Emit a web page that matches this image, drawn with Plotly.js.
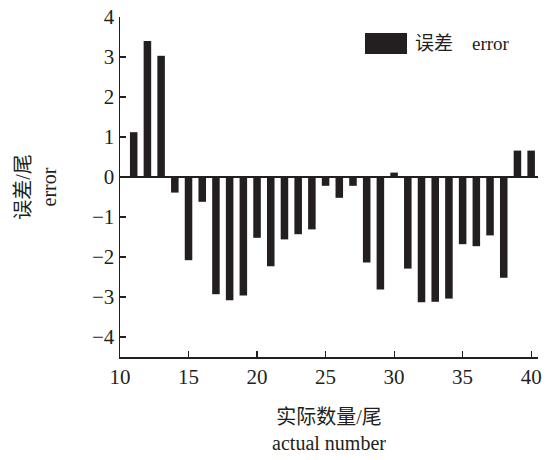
<!DOCTYPE html>
<html>
<head>
<meta charset="utf-8">
<script src="https://cdn.plot.ly/plotly-3.0.1.min.js"></script>
<style>html,body{margin:0;padding:0;background:#fff;}#chart{width:548px;height:460px;}</style>
</head>
<body>
<div id="chart"></div>
<script>
const actualNumber = [11,12,13,14,15,16,17,18,19,20,21,22,23,24,25,26,27,28,29,30,31,32,33,34,35,36,37,38,39,40];
const errorValues = [1.12,3.4,3.03,-0.39,-2.08,-0.62,-2.93,-3.08,-2.96,-1.52,-2.23,-1.56,-1.43,-1.31,-0.22,-0.52,-0.22,-2.14,-2.81,0.11,-2.29,-3.13,-3.12,-3.04,-1.68,-1.73,-1.46,-2.52,0.66,0.66];
const xTicks = [10,15,20,25,30,35,40];
const yTicks = [-4,-3,-2,-1,0,1,2,3,4];
const legendLabel = "误差&nbsp;&nbsp;&nbsp;&nbsp;error";

const FONT = "'Liberation Serif', 'Times New Roman', 'Noto Sans CJK SC', serif";
const barColor = "#231f20";

const trace = {
  type: "bar",
  x: actualNumber,
  y: errorValues,
  width: 0.55,
  marker: {color: barColor, line: {width: 0}},
  showlegend: false
};

const layout = {
  width: 548, height: 460,
  margin: {l: 120, r: 10, t: 17, b: 103},
  paper_bgcolor: "#fff", plot_bgcolor: "#fff",
  font: {family: FONT, size: 20, color: "#231f20"},
  showlegend: false,
  xaxis: {
    range: [10, 40.5],
    tickvals: xTicks,
    ticktext: xTicks.map(String),
    ticks: "inside", ticklen: 6, tickwidth: 1.2, tickcolor: "#231f20",
    showline: true, linecolor: "#231f20", linewidth: 1.5,
    showgrid: false, zeroline: false,
    tickfont: {family: FONT, size: 21},
    title: {text: "实际数量/尾<br>actual number", font: {family: FONT, size: 20}, standoff: 22}
  },
  yaxis: {
    range: [-4.5, 4],
    tickvals: yTicks,
    ticks: "inside", ticklen: 6, tickwidth: 1.2, tickcolor: "#231f20",
    showline: true, linecolor: "#231f20", linewidth: 1.5,
    showgrid: false,
    zeroline: true, zerolinecolor: "#231f20", zerolinewidth: 1.5,
    tickfont: {family: FONT, size: 21},
    title: {text: "误差/尾<br>error", font: {family: FONT, size: 20}, standoff: 30}
  },
  shapes: [{
    type: "rect", xref: "paper", yref: "paper",
    x0: (365-120)/418, x1: (407-120)/418,
    y0: (357-54)/340, y1: (357-33)/340,
    fillcolor: barColor, line: {width: 0}
  }],
  annotations: [{
    xref: "paper", yref: "paper",
    x: (413-120)/418, y: (357-43.5)/340,
    xanchor: "left", yanchor: "middle",
    text: legendLabel, showarrow: false,
    font: {family: FONT, size: 19, color: "#231f20"}
  }]
};

Plotly.newPlot("chart", [trace], layout, {staticPlot: true, displayModeBar: false});
</script>
</body>
</html>
